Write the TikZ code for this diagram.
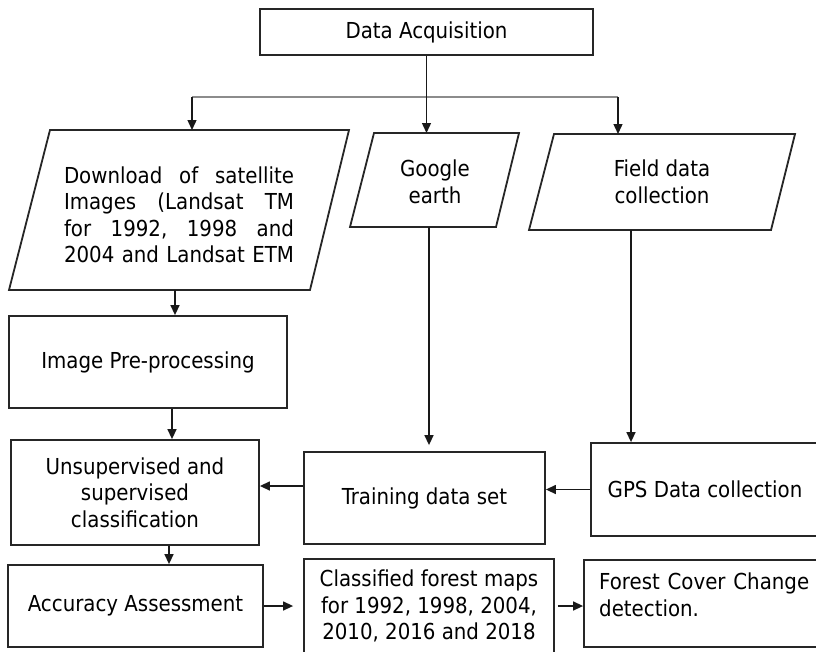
\documentclass[tikz,border=0pt]{standalone}
\usepackage{fontspec}
\setmainfont{DejaVu Sans Condensed}
\usetikzlibrary{arrows.meta}
% stretchable inter-word space for the justified lines
\newcommand\jsp{\hspace{0.25em plus 1fill}}
\begin{document}
\begin{tikzpicture}[x=1pt,y=-1pt,
  lbl/.style={font=\fontsize{22}{26.5}\selectfont, inner sep=0pt},
  procbox/.style={lbl, draw=black!85, line width=1.8pt},
  inshape/.style={draw=black!85, line width=1.8pt, line join=miter},
  arr/.style={draw=black!90, line width=1.4pt, -{Triangle[length=10pt,width=9pt]}},
  greyline/.style={draw=black!45, line width=1.3pt}]
\useasboundingbox (0,0) rectangle (816,651);

% rectangular process boxes
\node[procbox, minimum width=333pt, minimum height=46pt] (da) at (426.5,32) {Data Acquisition};
\node[procbox, minimum width=278pt, minimum height=92pt] (ip) at (148,362) {Image Pre-processing};
\node[procbox, minimum width=248pt, minimum height=105pt, align=center] (us) at (135,492.5)
  {Unsupervised and\\supervised\\classification};
\node[procbox, minimum width=241pt, minimum height=92pt] (td) at (424.5,498) {Training data set};
\node[procbox, minimum width=228pt, minimum height=93pt] (gps) at (705,489.5) {GPS Data collection};
\node[procbox, minimum width=255pt, minimum height=82pt] (acc) at (135.5,606) {Accuracy Assessment};
\node[procbox, minimum width=250pt, minimum height=94pt, align=center] (cls) at (429,606)
  {Classified forest maps\\for 1992, 1998, 2004,\\2010, 2016 and 2018};
\node[draw=black!85, line width=1.8pt, minimum width=238pt, minimum height=87pt] (fcc) at (703,603.5) {};
\node[lbl, text width=210pt, anchor=west] (fcctext) at (599,595)
  {Forest\jsp Cover\jsp Change\\detection.};

% input/output parallelograms
\draw[inshape] (50,130) -- (349,130) -- (310,290) -- (9,290) -- cycle;
\draw[inshape] (374,133) -- (519,133) -- (496,227) -- (350,227) -- cycle;
\draw[inshape] (554,134) -- (795,134) -- (771,230) -- (529,230) -- cycle;
\node[lbl, text width=230pt] (dl) at (179,215)
  {Download\jsp of\jsp satellite\\Images\jsp (Landsat\jsp TM\\for\jsp 1992,\jsp 1998\jsp and\\2004\jsp and\jsp Landsat\jsp ETM};
\node[lbl, align=center] (ge) at (435,182) {Google\\earth};
\node[lbl, align=center] (fd) at (662,182) {Field data\\collection};

% connection points on the parallelogram edges
\coordinate (dltop) at (192,130);
\coordinate (dlbot) at (175,290);
\coordinate (getop) at (426.5,133);
\coordinate (gebot) at (429,227);
\coordinate (fdtop) at (618,134);
\coordinate (fdbot) at (631,230);
\coordinate (split) at (426.5,97);

% distribution from data acquisition
\draw[greyline] (dltop |- split) -- (fdtop |- split);
\draw[arr] (da.south) -- (getop);
\draw[arr] (dltop |- split) -- (dltop);
\draw[arr] (fdtop |- split) -- (fdtop);

% processing chain
\draw[arr] (dlbot) -- (dlbot |- ip.north);
\draw[arr] ([xshift=24pt]ip.south) -- ([xshift=24pt]ip.south |- us.north);
\draw[arr] ([xshift=34pt]us.south) -- ([xshift=34pt]us.south |- acc.north);
\draw[arr, shorten >=6pt] (gebot) -- (gebot |- td.north);
\draw[arr] (fdbot) -- (fdbot |- gps.north);
\draw[arr] ([yshift=12pt]td.west) -- ([yshift=12pt]td.west -| us.east);
\draw[arr] (gps.west) -- (gps.west -| td.east);
\draw[arr, shorten >=10pt] (acc.east) -- (acc.east -| cls.west);
\draw[arr, shorten <=3pt] (cls.east) -- (cls.east -| fcc.west);
\end{tikzpicture}
\end{document}
